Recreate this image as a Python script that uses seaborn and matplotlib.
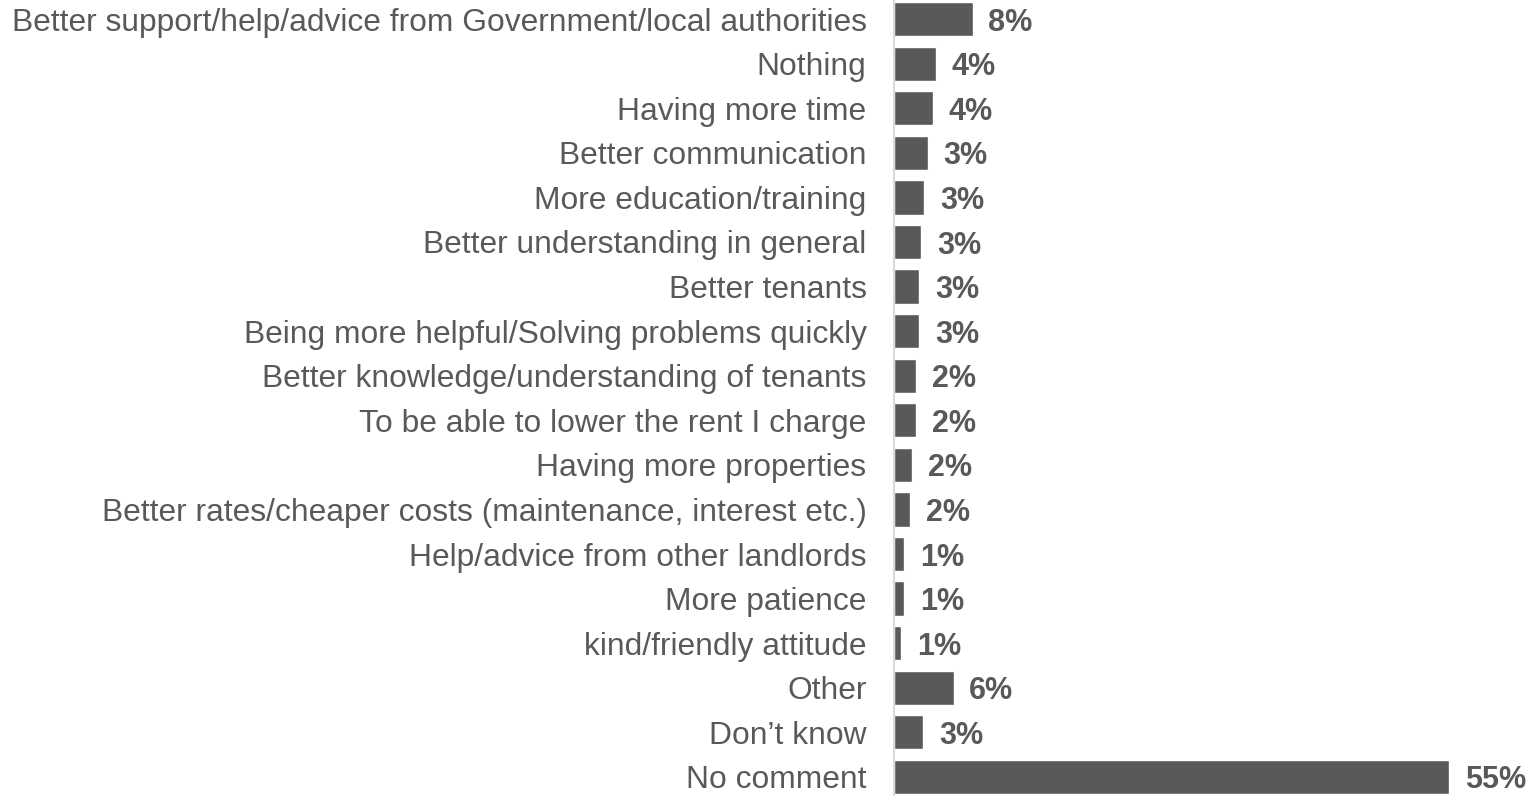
import pandas as pd
import matplotlib
matplotlib.use("Agg")
import matplotlib.pyplot as plt
import seaborn as sns

# Survey answers and their share (bar length)
answers = [
    "Better support/help/advice from Government/local authorities",
    "Nothing",
    "Having more time",
    "Better communication",
    "More education/training",
    "Better understanding in general",
    "Better tenants",
    "Being more helpful/Solving problems quickly",
    "Better knowledge/understanding of tenants",
    "To be able to lower the rent I charge",
    "Having more properties",
    "Better rates/cheaper costs (maintenance, interest etc.)",
    "Help/advice from other landlords",
    "More patience",
    "kind/friendly attitude",
    "Other",
    "Don\u2019t know",
    "No comment",
]
shares = [7.8, 4.1, 3.8, 3.3, 3.0, 2.7, 2.5, 2.5, 2.2, 2.2, 1.8, 1.6,
          1.0, 1.0, 0.7, 5.9, 2.9, 55.1]
share_labels = ["8%", "4%", "4%", "3%", "3%", "3%", "3%", "3%", "2%", "2%",
                "2%", "2%", "1%", "1%", "1%", "6%", "3%", "55%"]

df = pd.DataFrame({"answer": answers, "share": shares})

sns.set_style("white")
plt.rcParams["font.family"] = ["Liberation Sans", "DejaVu Sans"]

grey = "#595959"
fig = plt.figure(figsize=(15.3, 7.96), dpi=100)
ax = fig.add_axes([0.5845, -0.004, 0.41, 1.008])

sns.barplot(data=df, x="share", y="answer", order=answers, color=grey,
            saturation=1, width=0.77, ax=ax)

ax.set_xlim(0, 62.3)
ax.set_xlabel("")
ax.set_ylabel("")
ax.set_xticks([])
ax.tick_params(axis="y", length=0, pad=20, labelsize=22.9, labelcolor=grey)

for s in ["top", "right", "bottom"]:
    ax.spines[s].set_visible(False)
ax.spines["left"].set_color("#d9d9d9")
ax.spines["left"].set_linewidth(1.5)

for i, (v, lab) in enumerate(zip(shares, share_labels)):
    ax.text(v + 1.55, i + 0.08, lab, va="center", ha="left", fontsize=22,
            fontweight="bold", color=grey)

fig.savefig("out.png", dpi=100)
